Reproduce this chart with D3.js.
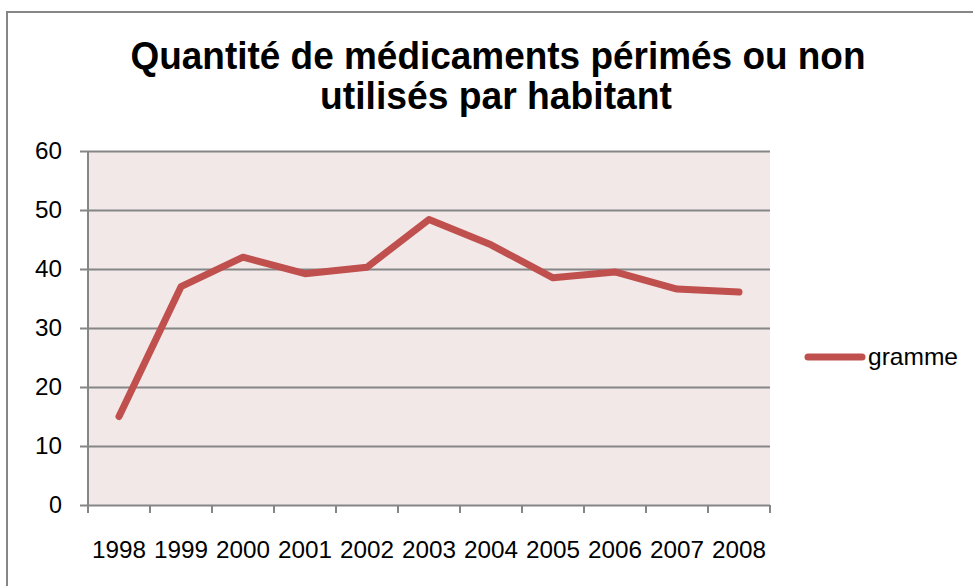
<!DOCTYPE html>
<html>
<head>
<meta charset="utf-8">
<script src="https://cdn.jsdelivr.net/npm/d3@7"></script>
<style>
	body { margin: 0; background: #fff; }
	svg { display: block; }
</style>
</head>
<body>
<div id="chart"></div>
<script>
	// data
	var years = ['1998', '1999', '2000', '2001', '2002', '2003', '2004', '2005', '2006', '2007', '2008'];
	var gramme = [15, 37, 42, 39.2, 40.3, 48.4, 44.1, 38.5, 39.5, 36.6, 36.1];
	var yTicks = [0, 10, 20, 30, 40, 50, 60];
	var titleLines = ['Quantité de médicaments périmés ou non', 'utilisés par habitant'];
	var seriesName = 'gramme';

	var width = 973;
	var height = 586;
	var margin = { top: 151, right: 203, bottom: 81, left: 88 };
	var gridColor = '#868686';
	var lineColor = '#c0504d';
	var labelFont = '"Liberation Sans", Arial, sans-serif';
	var labelSize = 24;

	var svg = d3.select('#chart').append('svg')
		.attr('width', width)
		.attr('height', height);

	// outer chart border
	svg.append('rect')
		.attr('x', 7).attr('y', 12)
		.attr('width', width + 10).attr('height', height + 10)
		.attr('fill', 'none')
		.attr('stroke', gridColor)
		.attr('stroke-width', 2);

	// title
	svg.append('g').selectAll('text')
		.data(titleLines)
		.enter().append('text')
		.attr('x', (d, i) => i === 0 ? 498 : 496)
		.attr('y', (d, i) => 69 + i * 40)
		.attr('text-anchor', 'middle')
		.attr('font-family', labelFont)
		.attr('font-weight', 'bold')
		.attr('font-size', 39)
		.attr('textLength', (d, i) => i === 0 ? 735 : 352)
		.attr('lengthAdjust', 'spacingAndGlyphs')
		.text(d => d);

	var x = d3.scaleBand()
		.domain(years)
		.range([margin.left, width - margin.right]);
	var y = d3.scaleLinear()
		.domain([0, 60])
		.range([height - margin.bottom, margin.top]);

	// plot background
	svg.append('rect')
		.attr('x', margin.left)
		.attr('y', y(60))
		.attr('width', x.range()[1] - margin.left)
		.attr('height', y(0) - y(60))
		.attr('fill', '#f2e8e8');

	// y axis with gridlines
	var yAxis = svg.append('g')
		.attr('transform', 'translate(' + margin.left + ',0)')
		.call(d3.axisLeft(y).tickValues(yTicks).tickSize(-(x.range()[1] - margin.left)).tickPadding(26));
	yAxis.select('.domain').remove();
	yAxis.selectAll('.tick line')
		.attr('x1', -8)
		.attr('stroke', gridColor)
		.attr('stroke-width', 2);
	yAxis.selectAll('.tick text')
		.attr('font-family', labelFont)
		.attr('font-size', labelSize)
		.attr('textLength', d => d === 0 ? 13 : 27)
		.attr('lengthAdjust', 'spacingAndGlyphs')
		.attr('fill', '#000');

	svg.append('line')
		.attr('x1', margin.left).attr('x2', margin.left)
		.attr('y1', y(60)).attr('y2', y(0) + 8)
		.attr('stroke', gridColor)
		.attr('stroke-width', 2);

	// x axis: ticks on band edges, labels at centers
	var xEdges = years.map(d => x(d)).concat([x.range()[1]]);
	svg.append('g').selectAll('line')
		.data(xEdges)
		.enter().append('line')
		.attr('x1', d => d).attr('x2', d => d)
		.attr('y1', y(0)).attr('y2', y(0) + 8)
		.attr('stroke', gridColor)
		.attr('stroke-width', 2);

	svg.append('g').selectAll('text')
		.data(years)
		.enter().append('text')
		.attr('x', d => x(d) + x.bandwidth() / 2)
		.attr('y', 558)
		.attr('text-anchor', 'middle')
		.attr('font-family', labelFont)
		.attr('font-size', labelSize)
		.attr('textLength', 54)
		.attr('lengthAdjust', 'spacingAndGlyphs')
		.text(d => d);

	// series line
	var line = d3.line()
		.x((d, i) => x(years[i]) + x.bandwidth() / 2)
		.y(d => y(d));
	svg.append('path')
		.datum(gramme)
		.attr('d', line)
		.attr('fill', 'none')
		.attr('stroke', lineColor)
		.attr('stroke-width', 7)
		.attr('stroke-linejoin', 'round')
		.attr('stroke-linecap', 'round');

	// legend
	var legend = svg.append('g').attr('transform', 'translate(808,357)');
	legend.append('line')
		.attr('x1', 0).attr('x2', 54)
		.attr('stroke', lineColor)
		.attr('stroke-width', 7)
		.attr('stroke-linecap', 'round');
	legend.append('text')
		.attr('x', 60)
		.attr('y', 8)
		.attr('font-family', labelFont)
		.attr('font-size', labelSize)
		.attr('textLength', 90)
		.attr('lengthAdjust', 'spacingAndGlyphs')
		.text(seriesName);
</script>
</body>
</html>
